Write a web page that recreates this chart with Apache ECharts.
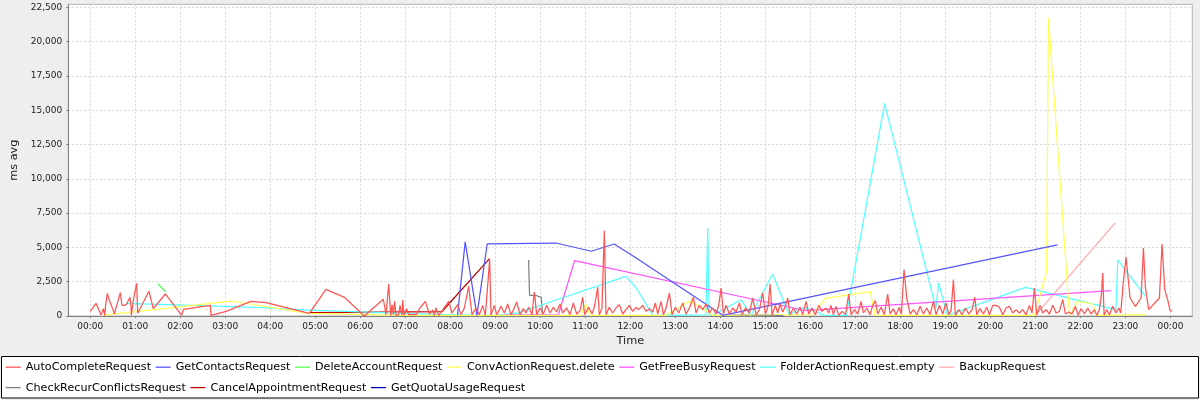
<!DOCTYPE html>
<html>
<head>
<meta charset="utf-8">
<script src="https://cdn.jsdelivr.net/npm/echarts@6/dist/echarts.min.js"></script>
<style>
html,body{margin:0;padding:0;background:#eeeeee;}
#c{width:1200px;height:400px;}
</style>
</head>
<body>
<div id="c"></div>
<script>
// ---- data (hour of day, ms avg) ----
const seriesNames = [
  'AutoCompleteRequest','GetContactsRequest','DeleteAccountRequest','ConvActionRequest.delete',
  'GetFreeBusyRequest','FolderActionRequest.empty','BackupRequest',
  'CheckRecurConflictsRequest','CancelAppointmentRequest','GetQuotaUsageRequest'
];
const seriesColors = ['#ff5555','#5555ff','#55ff55','#ffff55','#ff55ff','#55ffff','#ffafaf','#808080','#c00000','#0000c0'];

const autoComplete = [
[0.0,340],[0.127,922],[0.238,97],[0.29,534],[0.319,48],[0.341,777],[0.379,1652],[0.43,1069],[0.497,534],[0.534,146],[0.571,291],[0.667,1701],[0.704,777],[0.756,777],[0.808,875],[0.882,1361],[0.904,777],[0.912,48],[0.964,1312],[1.03,2381],[1.053,194],[1.304,1798],[1.4,534],[1.667,1604],[2.03,48],[2.067,486],[2.667,777],[2.682,48],[3.016,340],[3.571,1069],[3.904,972],[4.867,194],[5.237,1944],[5.645,1361],[6.089,0],[6.511,1215],[6.571,97],[6.63,2333],[6.675,48],[6.704,826],[6.734,97],[6.763,1069],[6.793,48],[6.852,97],[6.882,777],[6.926,48],[6.941,1166],[6.971,48],[7.03,534],[7.074,97],[7.237,97],[7.326,583],[7.445,1069],[7.534,146],[7.608,437],[7.645,48],[7.682,583],[7.741,48],[7.83,437],[7.889,729],
[7.963,1069],[8.037,219],[8.163,826],[8.237,97],[8.311,583],[8.407,2163],[8.481,97],[8.571,583],[8.645,97],[8.719,777],[8.778,48],[8.874,4107],[8.904,48],[8.978,777],[9.03,97],[9.126,704],[9.2,219],[9.274,875],[9.348,97],[9.422,583],[9.474,1020],[9.548,97],[9.622,534],[9.682,219],[9.741,632],[9.815,97],[9.867,1749],[9.919,97],[9.993,583],[10.067,146],[10.141,777],[10.215,219],[10.289,632],[10.363,291],[10.437,875],[10.496,219],[10.585,583],[10.659,97],[10.733,947],[10.807,146],[10.881,389],[10.941,1361],[10.985,97],[11.074,632],[11.148,146],[11.2,632],[11.274,2090],[11.311,97],[11.37,583],[11.422,6221],[11.459,97],[11.533,632],[11.607,219],[11.681,583],[11.756,826],[11.83,146],[11.904,461],[11.978,777],[12.052,340],
[12.127,632],[12.186,461],[12.275,777],[12.349,340],[12.423,534],[12.497,291],[12.557,947],[12.608,146],[12.683,1069],[12.734,97],[12.794,583],[12.868,1677],[12.927,97],[13.001,632],[13.075,219],[13.164,947],[13.238,146],[13.312,583],[13.401,1361],[13.46,219],[13.534,777],[13.608,461],[13.683,875],[13.757,219],[13.831,583],[13.905,146],[13.964,777],[14.016,2041],[14.068,146],[14.127,777],[14.201,146],[14.275,583],[14.349,291],[14.423,947],[14.483,97],[14.557,583],[14.646,219],[14.72,1312],[14.794,97],[14.868,461],[14.942,1677],[15.001,146],[15.06,704],[15.105,2333],[15.149,97],[15.223,777],[15.275,219],[15.327,875],[15.386,291],[15.446,704],[15.497,1312],[15.549,97],[15.623,583],[15.697,146],[15.771,632],[15.831,97],[15.905,1069],[15.964,146],[16.038,583],[16.112,97],[16.186,777],[16.26,340],
[16.349,583],[16.408,219],[16.46,777],[16.512,97],[16.571,704],[16.63,48],[16.705,340],[16.779,97],[16.853,1604],[16.905,97],[16.979,461],[17.053,146],[17.127,1069],[17.179,219],[17.253,583],[17.327,97],[17.386,777],[17.445,1118],[17.497,146],[17.571,632],[17.645,97],[17.719,1604],[17.771,146],[17.845,534],[17.905,97],[17.979,632],[18.023,146],[18.082,3378],[18.142,1312],[18.216,146],[18.29,461],[18.364,97],[18.438,704],[18.512,146],[18.586,583],[18.66,97],[18.734,1069],[18.793,97],[18.867,777],[18.942,146],[19.016,947],[19.075,97],[19.127,389],[19.179,2648],[19.223,48],[19.297,461],[19.371,97],[19.445,583],[19.519,146],[19.594,461],[19.653,1361],[19.697,97],[19.771,534],[19.845,146],[19.919,632],[19.979,97],[20.053,777],[20.127,777],[20.201,632],[20.275,97],[20.349,583],[20.423,704],[20.497,219],
[20.571,461],[20.645,219],[20.719,461],[20.793,97],[20.867,777],[20.927,219],[20.978,2041],[21.03,97],[21.104,777],[21.164,219],[21.238,461],[21.312,146],[21.386,777],[21.46,219],[21.534,340],[21.608,1190],[21.667,146],[21.741,291],[21.815,146],[21.889,704],[21.949,48],[22.015,534],[22.09,146],[22.164,583],[22.238,146],[22.312,461],[22.364,48],[22.423,461],[22.467,1555],[22.497,3134],[22.527,48],[22.586,461],[22.645,97],[22.719,704],[22.793,219],[22.853,583],[22.897,219],[22.956,2527],[23.015,4277],[23.104,1312],[23.223,704],[23.349,1312],[23.401,4957],[23.445,2090],[23.519,461],[23.756,1312],[23.815,5249],[23.875,1919],[23.949,1069],[23.993,389],[24.038,340]
];
const getContacts = [[8.16,50],[8.33,5400],[8.59,50],[8.82,5250],[10.35,5320],[11.13,4720],[11.64,5250],[12.13,4230],[14.05,50],[21.49,5180]];
const deleteAccount = [[1.504,2333],[1.682,1750]];
const convActionDelete = [[0.29,70],[3.14,1093],[4.84,197],[7.0,40],[10.9,50],[11.0,900],[11.1,50],[12.79,50],[13.31,1070],[13.5,780],[13.83,50],[16.05,100],[16.33,1290],[17.33,1770],[17.44,50],[20.98,50],[21.25,3260],[21.29,21720],[21.76,50],[21.94,1070],[22.28,875],[22.35,50],[23.44,95]];
const getFreeBusy = [[9.2,80],[10.4,80],[10.76,4030],[15.88,400],[22.68,1844]];
const folderActionEmpty = [[0.79,920],[3.68,630],[4.87,437],[7.83,97],[9.0,50],[9.5,219],[11.9,2890],[12.13,2040],[12.5,50],[13.68,80],[13.72,6420],[13.75,80],[13.83,50],[14.46,1190],[14.68,50],[15.16,3060],[15.53,50],[15.77,600],[16.0,500],[16.3,60],[16.8,50],[17.65,15500],[18.79,580],[18.85,2400],[19.0,580],[19.05,50],[20.78,2090],[22.79,460],[22.83,4100],[23.44,1440]];
const backup = [[21.0,50],[22.77,6780]];
const checkRecurConflicts = [[9.74,4080],[9.76,1510],[9.89,1510],[10.02,1360],[10.05,95]];
const cancelAppointment = [[4.87,240],[7.81,310],[8.87,4180]];
const getQuotaUsage = [[14.2,40],[14.9,60],[15.4,30]];

const xTickHours = [0,1,2,3,4,5,6,7,8,9,10,11,12,13,14,15,16,17,18,19,20,21,22,23,24];
const yTickValues = [0,2500,5000,7500,10000,12500,15000,17500,20000,22500];

const seriesData = [autoComplete,getContacts,deleteAccount,convActionDelete,getFreeBusy,folderActionEmpty,backup,checkRecurConflicts,cancelAppointment,getQuotaUsage];

// ---- chart ----
const FONT = '"DejaVu Sans", sans-serif';
const chart = echarts.init(document.getElementById('c'), null, {renderer:'canvas'});
const fmtHour = v => { const h = Math.round(v) % 24; return (h < 10 ? '0' : '') + h + ':00'; };
const fmtNum = v => Math.round(v).toLocaleString('en-US');

const legendCommon = {
  orient:'horizontal', padding:0, itemGap:4.6, itemWidth:15, itemHeight:1.3,
  icon:'rect', selectedMode:false,
  textStyle:{fontFamily:FONT, fontSize:11.2, color:'#000'}
};

const option = {
  animation:false,
  backgroundColor:'#eeeeee',
  textStyle:{fontFamily:FONT},
  grid:{left:68.3, right:7.7, top:4.3, bottom:84, show:true, backgroundColor:'#ffffff', borderColor:'#b4b4b4', borderWidth:1},
  xAxis:{
    type:'value', min:-0.489, max:24.487,
    name:'Time', nameLocation:'middle', nameGap:20,
    nameTextStyle:{fontFamily:FONT, fontSize:11.3, color:'#222'},
    axisLine:{show:true, onZero:false, lineStyle:{color:'#808080'}},
    axisTick:{show:true, length:2, customValues:xTickHours, lineStyle:{color:'#808080'}},
    axisLabel:{customValues:xTickHours, formatter:fmtHour, fontFamily:FONT, fontSize:9, color:'#222', margin:6},
    splitLine:{show:true, lineStyle:{color:'#d6d6d6', type:[2,2], width:1}}
  },
  yAxis:{
    type:'value', min:0, max:22720,
    name:'ms avg', nameLocation:'middle', nameGap:41,
    nameTextStyle:{fontFamily:FONT, fontSize:11.3, color:'#222'},
    axisLine:{show:true, onZero:false, lineStyle:{color:'#808080'}},
    axisTick:{show:true, length:2, customValues:yTickValues, lineStyle:{color:'#808080'}},
    axisLabel:{customValues:yTickValues, formatter:fmtNum, fontFamily:FONT, fontSize:9, color:'#222', margin:6},
    splitLine:{show:true, lineStyle:{color:'#d6d6d6', type:[2,2], width:1}}
  },
  legend:[
    Object.assign({}, legendCommon, {left:5.7, top:361.7, data:seriesNames.slice(0,7)}),
    Object.assign({}, legendCommon, {left:5.7, top:382.1, data:seriesNames.slice(7)})
  ],
  graphic:[{type:'rect', silent:true, z:0, shape:{x:1.5, y:356.5, width:1197, height:41.5}, style:{fill:'#ffffff', stroke:'#000000', lineWidth:1}}],
  series: seriesNames.map((name, i) => ({
    name, type:'line', data:seriesData[i],
    showSymbol:false, symbol:'none', silent:true,
    z: 20 - i,
    color: seriesColors[i],
    lineStyle:{color:seriesColors[i], width:1.25},
    itemStyle:{color:seriesColors[i]},
    emphasis:{disabled:true}
  }))
};
chart.setOption(option);
</script>
</body>
</html>
